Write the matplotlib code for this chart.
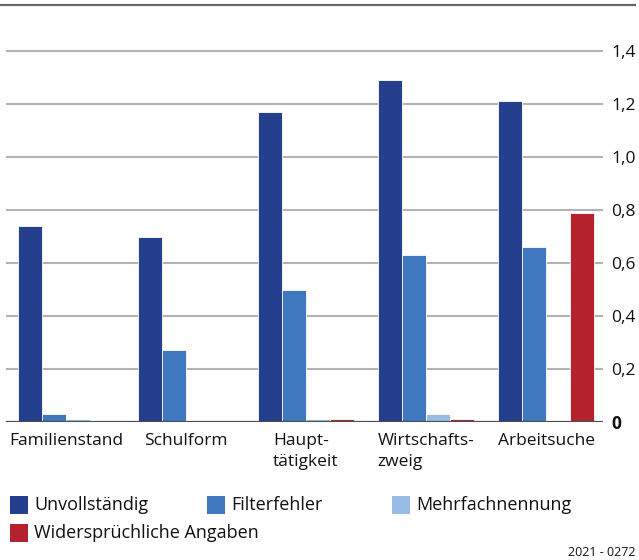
import matplotlib.pyplot as plt
import matplotlib.patches as patches
from matplotlib.lines import Line2D
import numpy as np

plt.rcParams['font.family'] = ['Open Sans', 'DejaVu Sans']

# --- Datos ---
kategorien = ['Familienstand', 'Schulform', 'Haupt-\ntätigkeit', 'Wirtschafts-\nzweig', 'Arbeitsuche']
serien = ['Unvollständig', 'Filterfehler', 'Mehrfachnennung', 'Widersprüchliche Angaben']
unvollstaendig = [0.74, 0.70, 1.17, 1.29, 1.21]
filterfehler = [0.03, 0.27, 0.50, 0.63, 0.66]
mehrfachnennung = [0.01, 0.0, 0.01, 0.03, 0.0]
widerspruechlich = [0.0, 0.0, 0.01, 0.01, 0.79]
y_ticks = [0, 0.2, 0.4, 0.6, 0.8, 1.0, 1.2, 1.4]
y_labels = ['0', '0,2', '0,4', '0,6', '0,8', '1,0', '1,2', '1,4']
quelle = '2021 - 0272'

farben = ['#243f8e', '#3f78bf', '#97bde6', '#b4232d']
textfarbe = '#111111'

W, H = 639, 560
fig = plt.figure(figsize=(W / 100, H / 100), dpi=100)
# Achse in Pixelkoordinaten platzieren
ax_left, ax_right, ax_top, ax_bottom = 6, 603, 5, 422
ax = fig.add_axes([ax_left / W, (H - ax_bottom) / H, (ax_right - ax_left) / W, (ax_bottom - ax_top) / H])

x = np.arange(len(kategorien))
breite = 0.2
werte = [unvollstaendig, filterfehler, mehrfachnennung, widerspruechlich]
for j, (vals, col) in enumerate(zip(werte, farben)):
    ax.bar(x - 0.4 + breite * j, vals, width=breite, align='edge', color=col,
           edgecolor='white', linewidth=0.6, zorder=3)

ax.set_xlim(-0.5, 4.475)
ax.set_ylim(0, 1.574)

# Gitterlinien
for t in y_ticks[1:]:
    ax.axhline(t, color='#b3b3b3', linewidth=1.5, zorder=1)
ax.axhline(0, color='#4d4d4d', linewidth=2.3, zorder=4)

for s in ax.spines.values():
    s.set_visible(False)

ax.yaxis.tick_right()
ax.set_yticks(y_ticks)
ax.set_yticklabels(y_labels, fontsize=12.5, color=textfarbe)
ax.tick_params(axis='y', length=0, pad=6)
ax.get_yticklabels()[0].set_fontweight('bold')

ax.set_xticks(x)
ax.set_xticklabels(kategorien, fontsize=12.5, color=textfarbe, multialignment='left', linespacing=1.4)
ax.tick_params(axis='x', length=0, pad=8)
for lbl in ax.get_xticklabels():
    lbl.set_verticalalignment('top')

# Obere Linie
fig.add_artist(Line2D([0, 635 / W], [1 - 5 / H, 1 - 5 / H], color='#666666', linewidth=1.6))

# --- Legende ---
leg_pos = [(10, 505), (207, 505), (392, 505), (10, 533)]
for (px, py), name, col in zip(leg_pos, serien, farben):
    fig.add_artist(patches.Rectangle((px / W, 1 - (py + 9) / H), 18 / W, 18 / H,
                                     transform=fig.transFigure, facecolor=col, edgecolor='none'))
    fig.text((px + 24) / W, 1 - py / H, name, fontsize=13, va='center', ha='left', color=textfarbe)

fig.text(636 / W, 1 - 553 / H, quelle, fontsize=9, ha='right', va='center', color=textfarbe)

plt.savefig('out.png', dpi=100)
plt.close(fig)
